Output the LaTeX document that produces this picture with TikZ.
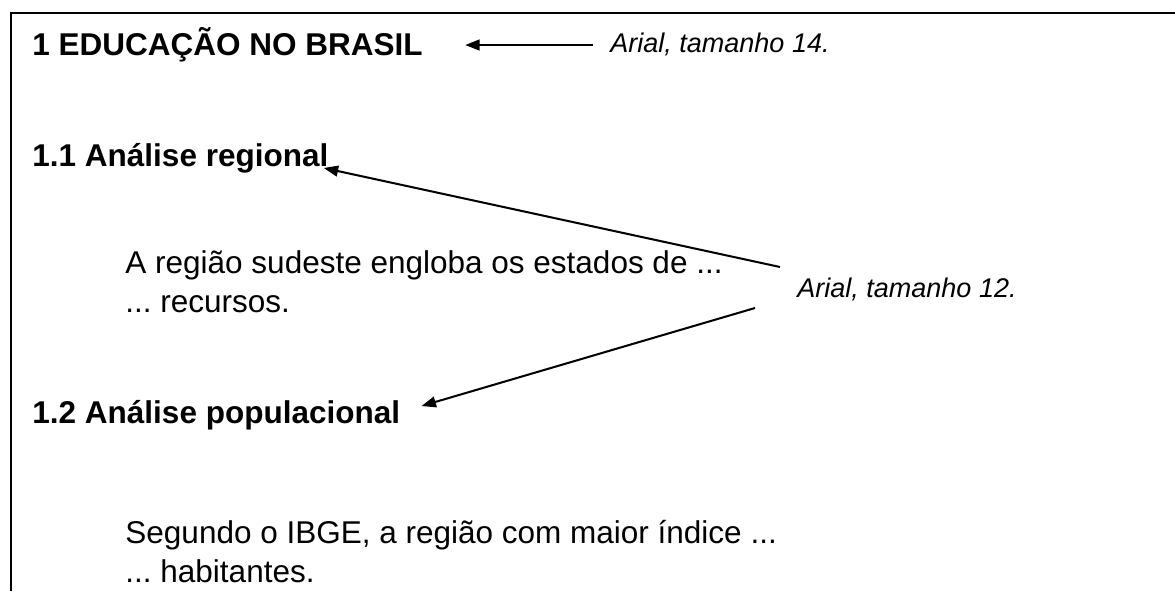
\documentclass[tikz,border=0pt]{standalone}
\usepackage{fontspec}
\setmainfont{Liberation Sans}
\frenchspacing
\usetikzlibrary{arrows.meta, positioning, calc}
\tikzset{
  headbox/.style={inner sep=0pt, anchor=base west, font=\fontsize{14}{16.8}\selectfont\bfseries},
  bodybox/.style={inner sep=0pt, anchor=base west, align=left, font=\fontsize{14}{16.9}\selectfont},
  notebox/.style={inner sep=0pt, anchor=base west, font=\fontsize{12}{14.4}\selectfont\itshape},
  pointer/.style={-{Triangle[length=6.4pt, width=4.8pt]}, line width=0.9pt},
  pageframe/.style={line width=0.9pt}
}
\begin{document}
\begin{tikzpicture}[x=0.4444pt, y=-0.4444pt]
  \useasboundingbox (0,0) rectangle (1175,591);
  \draw[pageframe] (1175,13) -- (11,13) -- (11,591);

  \node[headbox] (title) at (32,55) {1 EDUCAÇÃO NO BRASIL};
  \node[notebox] (note14) at (610,52) {Arial, tamanho 14.};

  \node[headbox] (secA) at (32,166) {1.1 Análise regional};
  % base of a two-line node is its last line
  \node[bodybox] (parA) at (125,312) {A região sudeste engloba os estados de ...\\... recursos.};
  \node[notebox] (note12) at (797,297) {Arial, tamanho 12.};

  \node[headbox] (secB) at (32,423) {1.2 Análise populacional};
  \node[bodybox] (parB) at (125,582) {Segundo o IBGE, a região com maior índice ...\\... habitantes.};

  % pointers from the notes to the headings
  \draw[pointer] ($(note14.base west)+(-17,-7)$) -- ($(title.base east)+(42,-10)$);
  \draw[pointer] ($(note12.base west)+(-17,-30)$) -- ($(secA.base east)+(-5,2)$);
  \draw[pointer] ($(note12.base west)+(-42,11)$) -- ($(secB.base east)+(21,-17)$);
\end{tikzpicture}
\end{document}
